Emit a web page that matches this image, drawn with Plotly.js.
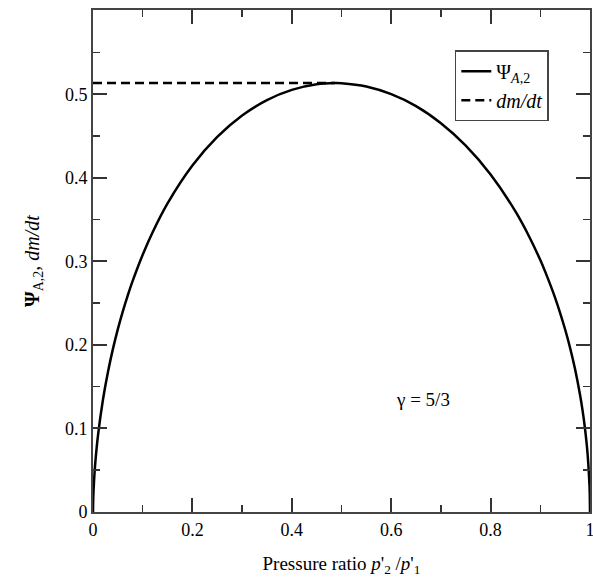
<!DOCTYPE html>
<html>
<head>
<meta charset="utf-8">
<script src="https://cdn.plot.ly/plotly-3.0.1.min.js"></script>
<style>html,body{margin:0;padding:0;background:#fff;}#chart{width:593px;height:580px;}</style>
</head>
<body>
<div id="chart"></div>
<script>
// Pressure ratio p'2/p'1 and Ψ_A,2
const ratio = [0, 0.0005, 0.001, 0.003, 0.005, 0.01, 0.02, 0.03, 0.04, 0.05, 0.06, 0.07, 0.08, 0.1, 0.12, 0.15, 0.2, 0.25, 0.3, 0.35, 0.4, 0.45, 0.487, 0.5, 0.55, 0.6, 0.65, 0.7, 0.75, 0.8, 0.85, 0.88, 0.9, 0.91, 0.93, 0.95, 0.96, 0.97, 0.98, 0.985, 0.99, 0.995, 0.999, 0.9995, 1];
const psi = [0, 0.0161, 0.0242, 0.0460, 0.0617, 0.0915, 0.1344, 0.1674, 0.1950, 0.2190, 0.2402, 0.2594, 0.2770, 0.3081, 0.3350, 0.3695, 0.4148, 0.4490, 0.4747, 0.4932, 0.5054, 0.5121, 0.5135, 0.5133, 0.5094, 0.5002, 0.4859, 0.4654, 0.4386, 0.4040, 0.3598, 0.3269, 0.3016, 0.2875, 0.2561, 0.2185, 0.1964, 0.1708, 0.1401, 0.1217, 0.0996, 0.0706, 0.0316, 0.0224, 0];
// dm/dt: constant (choked) value up to the critical ratio
const dmdtX = [0, 0.487];
const dmdtY = [0.5135, 0.5135];
const xTicks = [0, 0.2, 0.4, 0.6, 0.8, 1];
const xTickText = ['0', '0.2', '0.4', '0.6', '0.8', '1'];
const yTicks = [0, 0.1, 0.2, 0.3, 0.4, 0.5];
const yTickText = ['0', '0.1', '0.2', '0.3', '0.4', '0.5'];

const fam = 'Liberation Serif, Times New Roman, DejaVu Serif, serif';
const font = {family: fam, size: 18, color: '#000'};
const titleFont = {family: fam, size: 19, color: '#000'};
const legendFont = {family: fam, size: 20, color: '#000'};

const traces = [
  {x: ratio, y: psi, mode: 'lines', name: 'Ψ<sub><i>A</i>,2</sub>', line: {color: '#000', width: 2.5, shape: 'spline', smoothing: 1}},
  {x: dmdtX, y: dmdtY, mode: 'lines', name: '<i>dm/dt</i>', line: {color: '#000', width: 2.5, dash: '9px,5px'}}
];

const axisCommon = {
  showgrid: false, zeroline: false, showline: true, linecolor: '#444', linewidth: 2,
  mirror: 'allticks', ticks: 'inside', ticklen: 14, tickwidth: 2, tickcolor: '#333',
  tickfont: font, ticklabeloverflow: 'allow'
};

const layout = {
  width: 593, height: 580,
  margin: {l: 93, r: 3, t: 10, b: 68},
  paper_bgcolor: '#fff', plot_bgcolor: '#fff',
  font: font,
  showlegend: true,
  legend: {x: 0.728, y: 0.92, xanchor: 'left', yanchor: 'top', bordercolor: '#444', borderwidth: 1.5,
           bgcolor: '#fff', font: legendFont, tracegroupgap: 0, itemwidth: 30},
  xaxis: Object.assign({}, axisCommon, {
    range: [0, 1], tickvals: xTicks, ticktext: xTickText,
    minor: {dtick: 0.1, ticks: 'inside', ticklen: 7, tickwidth: 1.5, tickcolor: '#333'},
    title: {text: 'Pressure ratio <i>p</i>\'<sub>2</sub> /<i>p</i>\'<sub>1</sub>', font: titleFont, standoff: 18}
  }),
  yaxis: Object.assign({}, axisCommon, {
    range: [0, 0.601], tickvals: yTicks, ticktext: yTickText,
    minor: {dtick: 0.05, ticks: 'inside', ticklen: 7, tickwidth: 1.5, tickcolor: '#333'},
    title: {text: '<b>Ψ</b><sub>A,2</sub>, <i>dm/dt</i>', font: {family: fam, size: 20, color: '#000'}, standoff: 20}
  }),
  annotations: [
    {x: 0.722, y: 0.135, xref: 'paper', yref: 'y', text: 'γ = 5/3', showarrow: false, font: titleFont}
  ]
};

Plotly.newPlot('chart', traces, layout, {displayModeBar: false, staticPlot: true});
</script>
</body>
</html>
